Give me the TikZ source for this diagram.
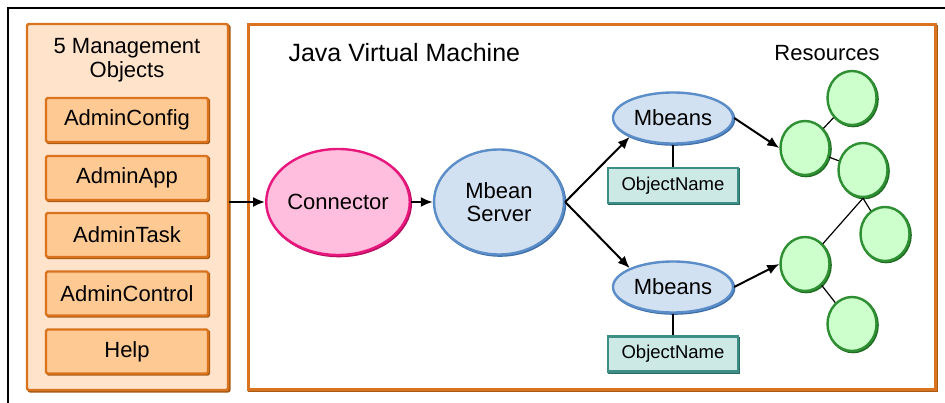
\documentclass[tikz,border=0pt]{standalone}
\usepackage{fontspec}
\setmainfont{Liberation Sans}
\usetikzlibrary{shapes.geometric,arrows.meta}
\definecolor{panelfill}{HTML}{FFE3CA}
\definecolor{orangeline}{HTML}{D9731E}
\definecolor{orangeshadow}{HTML}{A85A14}
\definecolor{boxfill}{HTML}{FFC994}
\definecolor{pinkfill}{HTML}{FFBEDD}
\definecolor{pinkline}{HTML}{E8177D}
\definecolor{pinkshadow}{HTML}{B30F5E}
\definecolor{bluefill}{HTML}{D1E1F1}
\definecolor{blueline}{HTML}{5B8DC9}
\definecolor{blueshadow}{HTML}{3F6FA8}
\definecolor{tealfill}{HTML}{CDE9E6}
\definecolor{tealline}{HTML}{3C8E86}
\definecolor{tealshadow}{HTML}{2A6B64}
\definecolor{greenfill}{HTML}{CCFFCC}
\definecolor{greenline}{HTML}{2F8F33}
\definecolor{greenshadow}{HTML}{1F6B22}
\tikzset{
  bigtext/.style={font=\fontsize{22}{25}\selectfont},
  shadowed/.style={preaction={draw=#1, transform canvas={shift={(1.1pt,-1.1pt)}}}},
  adminbox/.style={draw=orangeline, fill=boxfill, line width=2.2pt, rounded corners=1.5pt,
    minimum width=162pt, minimum height=44pt, inner sep=0pt, bigtext, shadowed=orangeshadow},
  ellnode/.style={ellipse, line width=2.4pt, inner sep=0pt, bigtext, align=center},
  connstyle/.style={ellnode, draw=pinkline, fill=pinkfill, minimum width=130pt, minimum height=106pt, shadowed=pinkshadow},
  serverstyle/.style={ellnode, draw=blueline, fill=bluefill, minimum width=130pt, minimum height=105pt, shadowed=blueshadow},
  beanstyle/.style={ellnode, draw=blueline, fill=bluefill, minimum width=120pt, minimum height=51pt, shadowed=blueshadow},
  objstyle/.style={draw=tealline, fill=tealfill, line width=2.2pt, minimum width=130pt, minimum height=35pt,
    inner sep=0pt, font=\fontsize{18.5}{21}\selectfont, shadowed=tealshadow},
  resstyle/.style={ellipse, draw=greenline, fill=greenfill, line width=2.4pt, minimum width=49pt, minimum height=54pt, inner sep=0pt, shadowed=greenshadow},
  arr/.style={-{Latex[length=12pt,width=10pt]}, line width=2pt, black},
  thin/.style={line width=1.2pt, black}
}
\begin{document}
\begin{tikzpicture}[x=1pt,y=-1pt]
\useasboundingbox (0,0) rectangle (945,403);
\fill[white] (0,0) rectangle (945,403);
% outer frame lines
\draw[line width=1.3pt] (8,403) -- (8,8) -- (945,8);
% left panel
\draw[orangeshadow, line width=2.4pt, rounded corners=2pt] (28.5,25.5) rectangle (229.5,391.5);
\node[draw=orangeline, fill=panelfill, line width=2.4pt, rounded corners=2pt, minimum width=201pt, minimum height=366pt, inner sep=0pt] (panel) at (127.5,207) {};
\node[bigtext, align=center] (ptitle) at (127,60) {5 Management\\[-1pt]Objects};
\node[adminbox] (b1) at (127,120) {AdminConfig};
\node[adminbox] (b2) at (127,178) {AdminApp};
\node[adminbox] (b3) at (127,235) {AdminTask};
\node[adminbox] (b4) at (127,293.5) {AdminControl};
\node[adminbox] (b5) at (127,351.5) {Help};
% JVM box
\draw[orangeshadow, line width=3pt] (249.5,26.5) rectangle (936.5,390.5);
\node[draw=orangeline, line width=3pt, fill=white, minimum width=687pt, minimum height=364pt, inner sep=0pt] (jvm) at (591.5,207) {};
\node[font=\fontsize{25}{28}\selectfont, anchor=west] (jvmtitle) at (285,53) {Java Virtual Machine};
\node[bigtext] (restitle) at (827,53) {Resources};
% main nodes
\node[connstyle] (conn) at (338,202) {Connector};
\node[serverstyle] (server) at (499,202) {Mbean\\[-2pt]Server};
\node[beanstyle] (mb1) at (673,118) {Mbeans};
\node[beanstyle] (mb2) at (673,287) {Mbeans};
\node[objstyle] (on1) at (673,185.5) {ObjectName};
\node[objstyle] (on2) at (673,354) {ObjectName};
% resources
\node[resstyle] (c1) at (852,98) {};
\node[resstyle] (c2) at (805,148) {};
\node[resstyle] (c3) at (863,170) {};
\node[resstyle] (c4) at (885,234) {};
\node[resstyle] (c5) at (805,264) {};
\node[resstyle] (c6) at (852,324) {};
% connectors
\draw[arr] (conn.west -| panel.east) -- (conn.west);
\draw[arr] (conn.east) -- (server.west);
\draw[arr] (server.east) -- (mb1.south west);
\draw[arr] (server.east) -- (mb2.north west);
\draw[thin] (mb1.south) -- (on1.north);
\draw[thin] (mb2.south) -- (on2.north);
\draw[arr] (mb1.east) -- (c2.west);
\draw[arr] (mb2.east) -- (c5.west);
\draw[thin] (c2) -- (c1);
\draw[thin] (c2) -- (c3);
\draw[thin] (c3.south) -- (c4);
\draw[thin] (c3.south) -- (c5);
\draw[thin] (c5) -- (c6);
\end{tikzpicture}
\end{document}
